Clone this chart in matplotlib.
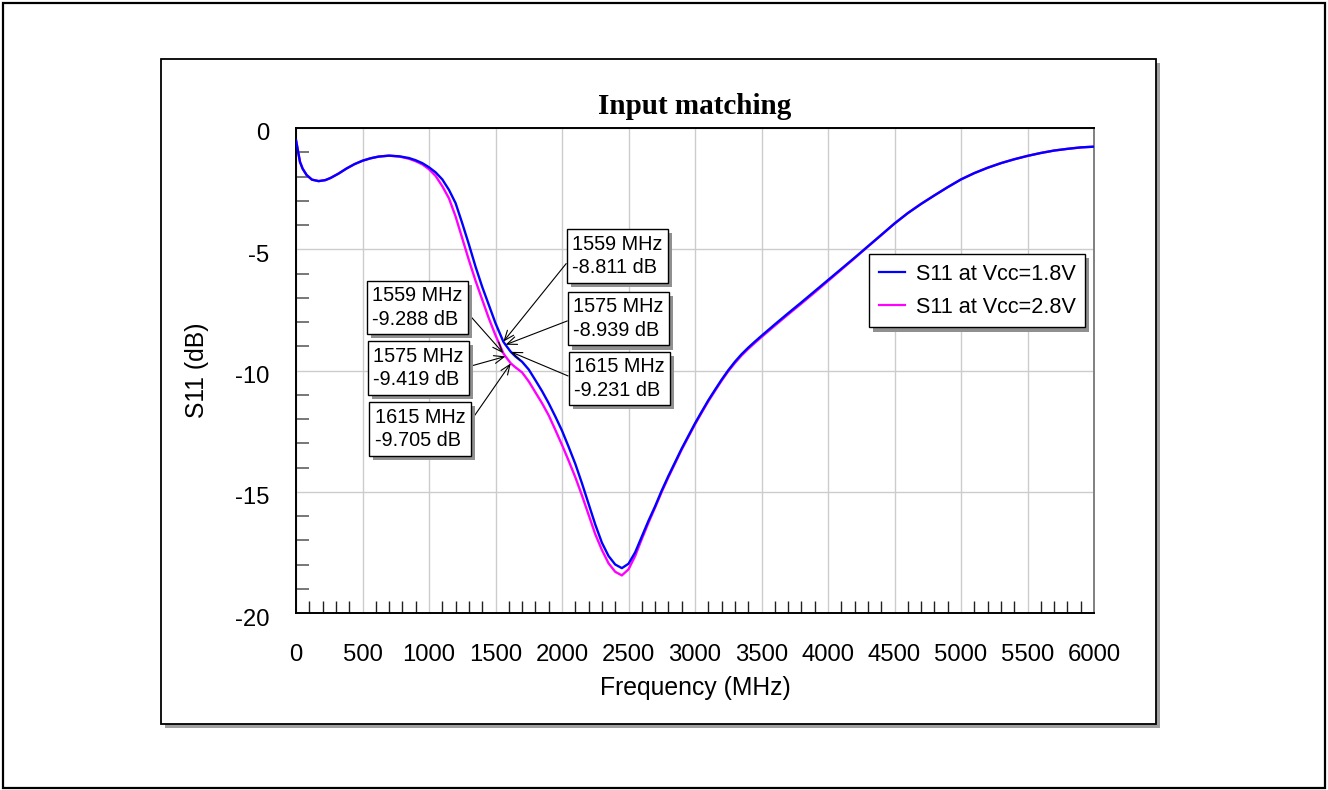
import matplotlib
matplotlib.use('Agg')
import matplotlib.pyplot as plt
import matplotlib.patheffects as pe
from matplotlib.patches import Rectangle
from matplotlib.ticker import FixedLocator
from matplotlib.transforms import ScaledTranslation

plt.rcParams['font.family'] = ['Liberation Sans', 'DejaVu Sans']

# S11 sweep, Vcc = 1.8 V
freq_18 = [0, 15, 30, 50, 80, 120, 170, 220, 260, 320, 380, 440, 500, 560, 620,
           700, 780, 850, 900, 950, 1000, 1050, 1100, 1150, 1200, 1250, 1300,
           1350, 1400, 1450, 1500, 1559, 1575, 1615, 1650, 1700, 1750, 1800,
           1850, 1900, 1950, 2000, 2050, 2100, 2150, 2200, 2250, 2300, 2350,
           2400, 2450, 2500, 2550, 2600, 2650, 2700, 2750, 2800, 2900, 3000,
           3050, 3100, 3150, 3200, 3250, 3300, 3350, 3400, 3450, 3500, 3600,
           3700, 3800, 3900, 4000, 4100, 4200, 4300, 4400, 4500, 4600, 4700,
           4800, 4900, 5000, 5100, 5200, 5300, 5400, 5500, 5600, 5700, 5800,
           5900, 6000]
s11_18 = [-0.5, -0.95, -1.4, -1.68, -1.94, -2.13, -2.19, -2.15, -2.06, -1.88,
          -1.67, -1.49, -1.35, -1.25, -1.18, -1.14, -1.17, -1.24, -1.33, -1.45,
          -1.62, -1.83, -2.12, -2.55, -3.1, -3.93, -4.8, -5.72, -6.55, -7.3,
          -8.05, -8.811, -8.939, -9.231, -9.42, -9.64, -9.96, -10.4, -10.85,
          -11.35, -11.9, -12.48, -13.15, -13.85, -14.65, -15.5, -16.35, -17.1,
          -17.65, -18.0, -18.15, -17.97, -17.5, -16.85, -16.2, -15.6, -14.95,
          -14.35, -13.22, -12.18, -11.7, -11.23, -10.8, -10.38, -9.99, -9.64,
          -9.33, -9.06, -8.81, -8.57, -8.1, -7.64, -7.19, -6.73, -6.27, -5.81,
          -5.35, -4.88, -4.41, -3.94, -3.51, -3.13, -2.78, -2.44, -2.12, -1.86,
          -1.64, -1.45, -1.29, -1.15, -1.03, -0.93, -0.86, -0.8, -0.77]

# S11 sweep, Vcc = 2.8 V
freq_28 = [0, 15, 30, 50, 80, 120, 170, 220, 260, 320, 380, 440, 500, 560, 620,
           700, 780, 850, 900, 950, 1000, 1050, 1100, 1150, 1200, 1250, 1300,
           1350, 1400, 1450, 1500, 1559, 1575, 1615, 1650, 1700, 1750, 1800,
           1850, 1900, 1950, 2000, 2050, 2100, 2150, 2200, 2250, 2300, 2350,
           2400, 2450, 2500, 2550, 2600, 2650, 2700, 2750, 2800, 2900, 3000,
           3050, 3100, 3150, 3200, 3250, 3300, 3350, 3400, 3450, 3500, 3600,
           3700, 3800, 3900, 4000, 4100, 4200, 4300, 4400, 4500, 4600, 4700,
           4800, 4900, 5000, 5100, 5200, 5300, 5400, 5500, 5600, 5700, 5800,
           5900, 6000]
s11_28 = [-0.5, -0.95, -1.4, -1.68, -1.94, -2.13, -2.19, -2.15, -2.06, -1.88,
          -1.67, -1.49, -1.35, -1.25, -1.18, -1.14, -1.18, -1.27, -1.37, -1.5,
          -1.7, -1.98, -2.4, -2.9, -3.65, -4.55, -5.45, -6.3, -7.08, -7.85,
          -8.55, -9.288, -9.419, -9.705, -9.87, -10.08, -10.45, -10.9, -11.35,
          -11.85, -12.45, -13.07, -13.72, -14.4, -15.15, -15.95, -16.75, -17.4,
          -17.95, -18.3, -18.45, -18.2, -17.65, -16.95, -16.28, -15.65, -15.0,
          -14.4, -13.26, -12.22, -11.74, -11.27, -10.84, -10.42, -10.03, -9.69,
          -9.38, -9.11, -8.86, -8.62, -8.15, -7.69, -7.24, -6.78, -6.31, -5.84,
          -5.37, -4.89, -4.42, -3.94, -3.51, -3.13, -2.78, -2.44, -2.12, -1.86,
          -1.64, -1.45, -1.29, -1.15, -1.03, -0.93, -0.86, -0.8, -0.77]

# marker readouts: (freq, value, label x, label y)
marks_18 = [(1559, -8.811, 2417, -5.28),
            (1575, -8.939, 2425, -7.86),
            (1615, -9.231, 2432, -10.33)]
marks_28 = [(1559, -9.288, 914, -7.40),
            (1575, -9.419, 921, -9.90),
            (1615, -9.705, 932, -12.41)]

W, H = 1328, 790
fig = plt.figure(figsize=(W / 100, H / 100), dpi=100)

# outer frame
fig.patches.append(Rectangle((3 / W, 2 / H), 1322 / W, 785 / H, transform=fig.transFigure,
                             fill=False, edgecolor='black', linewidth=1.6, zorder=-3))
# chart panel with drop shadow
fig.patches.append(Rectangle((165 / W, (H - 728) / H), 995 / W, 665 / H,
                             transform=fig.transFigure, facecolor='#a0a0a0',
                             edgecolor='none', zorder=-3))
fig.patches.append(Rectangle((161 / W, (H - 724) / H), 995 / W, 665 / H,
                             transform=fig.transFigure, facecolor='white',
                             edgecolor='black', linewidth=1.3, zorder=-2))

ax = fig.add_axes([296 / W, (H - 613) / H, 798 / W, 485 / H])
ax.plot(freq_18, s11_18, color='#0000ff', lw=1.7, zorder=3, label='S11 at Vcc=1.8V')
ax.plot(freq_28, s11_28, color='#ff00ff', lw=1.7, zorder=2, label='S11 at Vcc=2.8V')

ax.set_xlim(0, 6000)
ax.set_ylim(-20, 0)
ax.set_xticks(range(0, 6001, 500))
ax.set_yticks([0, -5, -10, -15, -20])
ax.set_yticklabels(['0', '-5', '-10', '-15', '-20'])
ax.xaxis.set_minor_locator(FixedLocator([f for f in range(100, 6000, 100) if f % 500]))
ax.yaxis.set_minor_locator(FixedLocator([v for v in range(-19, 0) if v % 5]))
ax.tick_params(which='major', length=0, labelsize=17.2)
ax.tick_params(axis='x', which='major', pad=22)
ax.tick_params(axis='y', which='major', pad=19)
ax.tick_params(axis='x', which='minor', direction='in', length=9, width=1, color='#202020')
ax.tick_params(axis='y', which='minor', direction='in', length=9, width=1.2, color='#606060')
ax.grid(True, which='major', color='#cccccc', lw=1)
ax.set_axisbelow(True)
for side in ['top', 'left', 'bottom']:
    ax.spines[side].set_linewidth(1.4)
    ax.spines[side].set_color('black')
ax.spines['right'].set_linewidth(1.4)
ax.spines['right'].set_color('#808080')

# y labels sit a few pixels below their gridlines
nudge = ScaledTranslation(0, -0.04, fig.dpi_scale_trans)
for lab in ax.get_yticklabels():
    lab.set_transform(lab.get_transform() + nudge)

shadow = [pe.withSimplePatchShadow(offset=(3, -3), shadow_rgbFace='#909090', alpha=1)]


def readout(f, v, tx, ty, side):
    ann = ax.annotate('%d MHz\n%.3f dB' % (f, v), xy=(f, v), xytext=(tx, ty),
                      fontsize=14.3, ha='center', va='center', multialignment='left',
                      linespacing=1.3,
                      bbox=dict(boxstyle='square,pad=0.28', fc='white', ec='black', lw=1),
                      arrowprops=dict(arrowstyle='->,head_length=0.5,head_width=0.2',
                                      color='black', lw=0.8, shrinkA=0, shrinkB=0,
                                      relpos=(side, 0.5)),
                      zorder=5)
    ann.get_bbox_patch().set_path_effects(shadow)


for f, v, tx, ty in marks_18:
    readout(f, v, tx, ty, 0)
for f, v, tx, ty in marks_28:
    readout(f, v, tx, ty, 1)

leg = ax.legend(loc='upper left', bbox_to_anchor=(869 / W, (H - 254) / H),
                bbox_transform=fig.transFigure, borderaxespad=0, fontsize=15.6,
                handlelength=1.2, handletextpad=0.5, borderpad=0.45, labelspacing=0.55,
                fancybox=False, framealpha=1, edgecolor='black')
leg.get_frame().set_linewidth(1)
leg.get_frame().set_path_effects(shadow)
for line in leg.get_lines():
    line.set_linewidth(1.6)

fig.text(695 / W, (H - 107) / H, 'Input matching', ha='center', va='center',
         fontsize=21, fontweight='bold', family=['Liberation Serif', 'DejaVu Serif'])
fig.text(695 / W, (H - 688) / H, 'Frequency (MHz)', ha='center', va='center', fontsize=17.8)
fig.text(197 / W, (H - 370) / H, 'S11 (dB)', ha='center', va='center', fontsize=17.8,
         rotation=90)

fig.savefig('out.png', dpi=100)
